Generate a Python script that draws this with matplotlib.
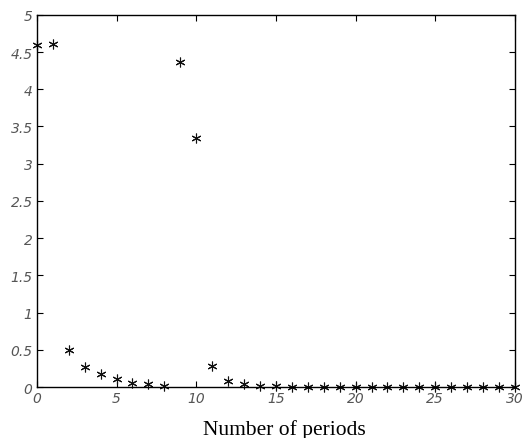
import numpy as np
import matplotlib
matplotlib.use("Agg")
from matplotlib import pyplot as plt

# values
periods = list(range(0, 31))
values = [4.60, 4.61, 0.50, 0.27, 0.17, 0.11, 0.06, 0.04, 0.02, 4.37, 3.35,
          0.28, 0.08, 0.04, 0.01, 0.01, 0.0, 0.0, 0.0, 0.0, 0.0, 0.0, 0.0,
          0.0, 0.0, 0.0, 0.0, 0.0, 0.0, 0.0, 0.0]
x_ticks = [0, 5, 10, 15, 20, 25, 30]
x_labels = ['0', '5', '10', '15', '20', '25', '30']
y_ticks = [0, 0.5, 1, 1.5, 2, 2.5, 3, 3.5, 4, 4.5, 5]
y_labels = ['0', '0.5', '1', '1.5', '2', '2.5', '3', '3.5', '4', '4.5', '5']

fig = plt.figure(figsize=(5.26, 4.39), dpi=100)
ax = fig.add_axes([0.070, 0.116, 0.909, 0.848])

ax.plot(periods, values, linestyle='none', marker=(6, 2, 0), markersize=7,
        markeredgewidth=0.8, color='#111111', clip_on=False)

ax.set_xlim(0, 30)
ax.set_ylim(0, 5)
ax.set_xticks(x_ticks)
ax.set_xticklabels(x_labels)
ax.set_yticks(y_ticks)
ax.set_yticklabels(y_labels)

ax.tick_params(direction='in', top=True, right=True, length=4, width=0.8,
               labelsize=10, labelcolor='#555555', pad=3)
for lab in ax.get_xticklabels() + ax.get_yticklabels():
    lab.set_fontstyle('italic')
for s in ax.spines.values():
    s.set_linewidth(1.0)

ax.set_xlabel('Number of periods', fontfamily='Liberation Serif', fontsize=15.5)
ax.xaxis.set_label_coords(0.517, -0.085)

plt.savefig('out.png', dpi=100)
